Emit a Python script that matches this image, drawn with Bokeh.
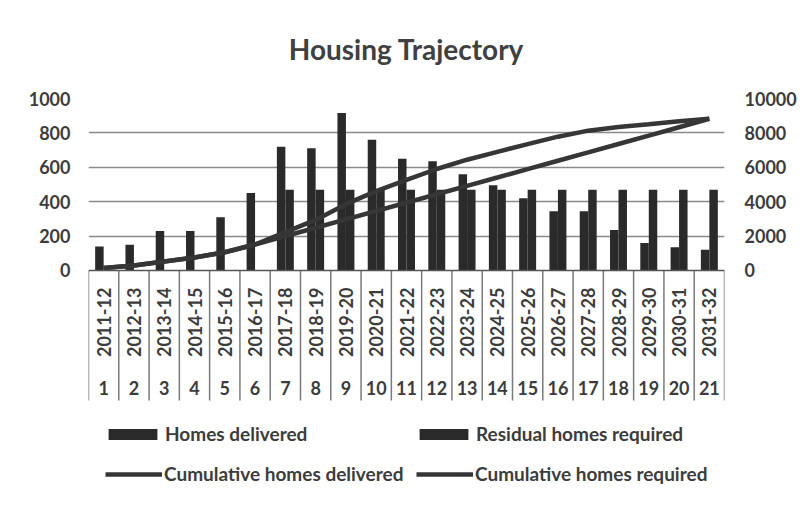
from bokeh.plotting import figure
from bokeh.models import (FactorRange, Range1d, LinearAxis, FixedTicker, Legend,
                          LegendItem, ColumnDataSource, Span)
from bokeh.transform import dodge
from bokeh.core.properties import value
from bokeh.embed import file_html
from bokeh.resources import INLINE

# ---------------- data ----------------
years = ["2011-12", "2012-13", "2013-14", "2014-15", "2015-16", "2016-17", "2017-18",
         "2018-19", "2019-20", "2020-21", "2021-22", "2022-23", "2023-24", "2024-25",
         "2025-26", "2026-27", "2027-28", "2028-29", "2029-30", "2030-31", "2031-32"]
year_numbers = ["1", "2", "3", "4", "5", "6", "7", "8", "9", "10", "11", "12", "13",
                "14", "15", "16", "17", "18", "19", "20", "21"]
homes_delivered = [140, 150, 230, 230, 310, 450, 720, 710, 915, 760, 650, 635, 560,
                   495, 420, 345, 345, 235, 160, 135, 120]
residual_required = [0, 0, 0, 0, 0, 0, 470, 470, 470, 470, 470, 470, 470, 470, 470,
                     470, 470, 470, 470, 470, 470]
cumulative_delivered = [140, 290, 520, 750, 1060, 1510, 2230, 2940, 3855, 4615, 5265,
                        5900, 6440, 6900, 7350, 7780, 8130, 8340, 8500, 8680, 8820]
cumulative_required = [140, 290, 520, 750, 1060, 1510, 2000, 2485, 2970, 3460, 3945,
                       4430, 4920, 5405, 5895, 6380, 6865, 7355, 7840, 8330, 8820]
left_ticks = [0, 200, 400, 600, 800, 1000]
right_ticks = [0, 2000, 4000, 6000, 8000, 10000]

# ---------------- style ----------------
FONT = "Lato"
TEXT = "#3c3c3c"
BAR = "#2a2a2a"
LINE = "#363636"
GRID = "#8a8a8a"
TABLE = "#7a7a7a"

TABLE_BOTTOM = -756     # table extends below zero line (in left-axis units)
YEAR_LABEL_Y = -100
NUM_LABEL_Y = -686

p = figure(width=799, height=498, output_backend="svg", toolbar_location=None,
           x_range=FactorRange(factors=years, range_padding=0),
           y_range=Range1d(-1326, 1000),
           x_axis_location=None, y_axis_location="left",
           min_border_left=88, min_border_right=74, min_border_top=98,
           min_border_bottom=0, outline_line_color=None,
           background_fill_color="white", border_fill_color="white")
p.extra_y_ranges = {"right": Range1d(-13260, 10000)}

# title
p.title.text = "Housing Trajectory"
p.title.text_font = FONT
p.title.text_font_size = "28px"
p.title.text_font_style = "bold"
p.title.text_color = "#404040"
p.title.align = "center"
p.title.vertical_align = "top"
p.title.standoff = 62
p.title.offset = 10

# grid
p.xgrid.visible = False
p.ygrid.ticker = FixedTicker(ticks=left_ticks[1:])
p.ygrid.grid_line_color = GRID
p.ygrid.grid_line_width = 1.5

# axes
def style_axis(ax, standoff):
    ax.axis_line_color = None
    ax.major_tick_line_color = None
    ax.minor_tick_line_color = None
    ax.major_tick_out = 0
    ax.major_tick_in = 0
    ax.major_label_standoff = standoff
    ax.major_label_text_font = FONT
    ax.major_label_text_font_size = "18px"
    ax.major_label_text_font_style = "bold"
    ax.major_label_text_color = TEXT

p.yaxis.ticker = FixedTicker(ticks=left_ticks)
style_axis(p.yaxis[0], 18)
right_axis = LinearAxis(y_range_name="right", ticker=FixedTicker(ticks=right_ticks))
style_axis(right_axis, 20)
p.add_layout(right_axis, "right")

src = ColumnDataSource(dict(year=years, num=year_numbers, delivered=homes_delivered,
                            residual=residual_required, cum_del=cumulative_delivered,
                            cum_req=cumulative_required))

# category table below the zero line
edges = [(y, -0.5) for y in years] + [(years[-1], 0.5)]
p.segment(x0=edges, y0=[0] * len(edges), x1=edges, y1=[TABLE_BOTTOM] * len(edges),
          line_color=TABLE, line_width=1.5)
p.text(x="year", y=YEAR_LABEL_Y, text="year", source=src, angle=1.5708,
       text_align="right", text_baseline="middle", text_font=value(FONT),
       text_font_size="18px", text_font_style="bold", text_color=TEXT)
p.text(x="year", y=NUM_LABEL_Y, text="num", source=src,
       text_align="center", text_baseline="middle", text_font=value(FONT),
       text_font_size="18px", text_font_style="bold", text_color=TEXT)
p.add_layout(Span(location=0, dimension="width", line_color="#555555", line_width=1.5))

# bars
r_del = p.vbar(x=dodge("year", -0.14, range=p.x_range), top="delivered", width=0.28,
               source=src, fill_color=BAR, line_color=None)
r_res = p.vbar(x=dodge("year", 0.14, range=p.x_range), top="residual", width=0.28,
               source=src, fill_color=BAR, line_color=None)

# cumulative lines
r_cd = p.line(x="year", y="cum_del", source=src, y_range_name="right",
              line_color=LINE, line_width=4.5)
r_cr = p.line(x="year", y="cum_req", source=src, y_range_name="right",
              line_color=LINE, line_width=4.5)

# legends (one per entry, positioned like the reference)
def add_legend(label, r, loc, gw):
    lg = Legend(items=[LegendItem(label=label, renderers=[r])], location=loc,
                orientation="horizontal", glyph_width=gw, glyph_height=14,
                label_standoff=2, padding=0, margin=0, border_line_color=None,
                background_fill_alpha=0, label_text_font=FONT,
                label_text_font_size="19px", label_text_font_style="bold",
                label_text_color=TEXT)
    p.add_layout(lg)

add_legend("Homes delivered", r_del, (14, 53), 61)
add_legend("Residual homes required", r_res, (325, 53), 61)
add_legend("Cumulative homes delivered", r_cd, (17, 13), 57)
add_legend("Cumulative homes required", r_cr, (328, 13), 57)

open("out.html", "w").write(file_html(p, INLINE))
